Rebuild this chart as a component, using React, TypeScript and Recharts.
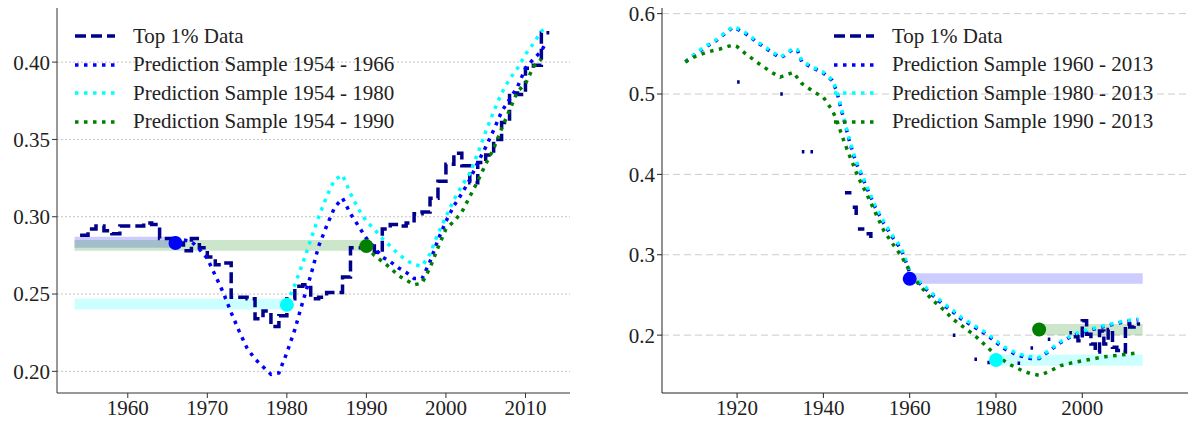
import React from 'react';
import { ComposedChart, Line, XAxis, YAxis, CartesianGrid, ReferenceArea, ReferenceDot } from 'recharts';

type P = { x: number; y: number | null };
const mk = (xs: number[], ys: (number | null)[]): P[] => xs.map((x, i) => ({ x, y: ys[i] }));

// ---------- Left panel ----------
const leftDataYears = Array.from({ length: 60 }, (_, i) => 1954 + i);
const leftDataVals = [0.288,0.292,0.294,0.291,0.289,0.294,0.294,0.294,0.296,0.295,0.286,0.286,0.283,0.278,0.286,0.280,0.274,0.269,0.270,0.248,0.248,0.247,0.234,0.239,0.229,0.236,0.247,0.255,0.256,0.247,0.248,0.251,0.251,0.261,0.280,0.280,0.281,0.277,0.292,0.295,0.294,0.296,0.302,0.303,0.312,0.323,0.334,0.341,0.333,0.322,0.335,0.340,0.350,0.361,0.380,0.379,0.396,0.398,0.419,0.419];
const leftBlueYears = [1966,1967,1968,1969,1970,1971,1972,1973,1974,1975,1976,1977,1978,1979,1980,1981,1982,1983,1984,1985,1986,1987,1988,1989,1990,1991,1992,1993,1994,1995,1996,1997,1998,1999,2000,2001,2002,2003,2004,2005,2006,2007,2008,2009,2010,2011,2012,2012.5];
const leftBlueVals = [0.283,0.285,0.284,0.279,0.273,0.262,0.251,0.238,0.226,0.215,0.208,0.203,0.198,0.199,0.212,0.227,0.245,0.262,0.281,0.294,0.306,0.312,0.302,0.294,0.286,0.280,0.274,0.271,0.267,0.264,0.260,0.260,0.271,0.285,0.297,0.307,0.315,0.324,0.335,0.345,0.356,0.368,0.376,0.384,0.396,0.402,0.407,0.412];
const leftCyanYears = [1980,1981,1982,1983,1984,1985,1986,1987,1988,1989,1990,1991,1992,1993,1994,1995,1996,1997,1998,1999,2000,2001,2002,2003,2004,2005,2006,2007,2008,2009,2010,2011,2012,2012.5];
const leftCyanVals = [0.244,0.256,0.270,0.285,0.300,0.313,0.324,0.327,0.315,0.305,0.297,0.292,0.286,0.281,0.276,0.272,0.269,0.268,0.276,0.289,0.300,0.311,0.320,0.328,0.341,0.355,0.368,0.380,0.389,0.396,0.405,0.412,0.420,0.422];
const leftGreenYears = [1990,1991,1992,1993,1994,1995,1996,1997,1998,1999,2000,2001,2002,2003,2004,2005,2006,2007,2008,2009,2010,2011,2012];
const leftGreenVals = [0.281,0.275,0.271,0.267,0.262,0.259,0.256,0.257,0.267,0.280,0.292,0.297,0.303,0.313,0.323,0.334,0.344,0.357,0.369,0.381,0.386,0.397,0.402];
const leftTicksX = [1960,1970,1980,1990,2000,2010];
const leftTicksY = [0.20,0.25,0.30,0.35,0.40];

// ---------- Right panel ----------
const rightPredYears = [1908,1910,1912,1915,1919,1920,1922,1925,1928,1930,1931,1933,1934,1935,1937,1940,1942,1943,1944,1945,1946,1947,1948,1949,1950,1952,1954,1956,1958,1959,1960,1962,1965,1968,1970,1972,1975,1978,1980,1982,1985,1988,1990,1992,1995,1998,2000,2003,2006,2010,2013];
const rightBlueVals = [0.540,0.548,0.556,0.566,0.583,0.581,0.575,0.563,0.552,0.545,0.548,0.556,0.554,0.540,0.534,0.526,0.517,0.505,0.484,0.463,0.442,0.424,0.409,0.397,0.384,0.359,0.339,0.322,0.307,0.293,0.278,0.266,0.251,0.237,0.229,0.220,0.210,0.200,0.191,0.183,0.175,0.171,0.171,0.179,0.191,0.200,0.204,0.208,0.212,0.217,0.219];
const rightCyanVals = [0.540,0.549,0.557,0.567,0.584,0.582,0.576,0.564,0.553,0.546,0.549,0.557,0.555,0.541,0.535,0.527,0.518,0.506,0.486,0.465,0.444,0.426,0.411,0.399,0.386,0.361,0.341,0.324,0.309,0.295,0.280,0.268,0.253,0.239,0.231,0.222,0.212,0.202,0.193,0.185,0.177,0.173,0.172,0.180,0.192,0.201,0.205,0.209,0.213,0.218,0.220];
const rightGreenYears = [1908,1910,1913,1916,1919,1920,1922,1925,1928,1930,1933,1935,1938,1940,1942,1943,1944,1945,1946,1947,1948,1950,1952,1954,1956,1958,1960,1962,1965,1968,1970,1972,1975,1978,1980,1983,1986,1988,1990,1992,1995,1998,2000,2005,2010,2013];
const rightGreenVals = [0.540,0.546,0.552,0.556,0.561,0.559,0.550,0.538,0.527,0.521,0.527,0.513,0.502,0.496,0.480,0.469,0.453,0.438,0.424,0.411,0.397,0.376,0.353,0.330,0.314,0.299,0.280,0.264,0.245,0.231,0.220,0.212,0.200,0.185,0.175,0.164,0.156,0.152,0.150,0.154,0.162,0.166,0.168,0.173,0.176,0.178];
const rightDataYears = [1920,1920.6,1920.7,1930,1930.6,1930.7,1935,1935.6,1935.7,1937,1937.6,1937.7,1945,1946.5,1946.6,1946.8,1947,1947.6,1947.7,1948,1949.5,1949.6,1950,1951,1951.1,1970,1970.6,1970.7,1975,1975.6,1975.7,1978,1978.6,1978.7,1985,1985.6,1985.7,1988,1988.6,1988.7,1992,1992.6,1992.7,1997,1997.6,1997.7,1998,1999,2000,2001,2002,2003,2004,2005,2006,2007,2008,2009,2010,2011,2012,2013];
const rightDataVals = [0.515,0.515,null,0.500,0.500,null,0.428,0.428,null,0.428,0.428,null,0.377,0.377,null,0.359,0.359,0.347,null,0.332,0.332,null,0.326,0.321,null,0.200,0.200,null,0.170,0.170,null,0.166,0.166,null,0.165,0.165,null,0.184,0.184,null,0.195,0.195,null,0.203,0.203,null,0.198,0.193,0.218,0.201,0.189,0.179,0.205,0.189,0.207,0.185,0.181,0.179,0.214,0.210,0.214,0.216];
const rightTicksX = [1920,1940,1960,1980,2000];
const rightTicksY = [0.2,0.3,0.4,0.5,0.6];

const NAVY = '#00008b';
const BLUE = '#0000ff';
const CYAN = '#00ffff';
const GREEN = '#008000';
const FONT = '"Liberation Serif", "DejaVu Serif", serif';
const tick = { fill: '#222', fontSize: 21, fontFamily: FONT };

const dataLine = (d: P[], key: string) => (
  <Line key={key} data={d} dataKey="y" type="stepAfter" stroke={NAVY} strokeWidth={3.5} strokeDasharray="11 5" dot={false} isAnimationActive={false} connectNulls={false} />
);
const predLine = (d: P[], color: string, key: string) => (
  <Line key={key} data={d} dataKey="y" type="linear" stroke={color} strokeWidth={3.5} strokeDasharray="3.5 5.5" dot={false} isAnimationActive={false} />
);

function Legend({ items, left, top }: { items: { label: string; color: string; dash: string }[]; left: number; top: number }) {
  return (
    <div style={{ position: 'absolute', left, top, fontFamily: FONT, fontSize: 21, color: '#222' }}>
      {items.map((it, i) => (
        <div key={i} style={{ display: 'flex', alignItems: 'center', height: 28.5 }}>
          <svg width={40} height={10} style={{ marginRight: 18 }}>
            <line x1={0} y1={5} x2={40} y2={5} stroke={it.color} strokeWidth={3.5} strokeDasharray={it.dash} />
          </svg>
          <span>{it.label}</span>
        </div>
      ))}
    </div>
  );
}

export default function App() {
  const lData = mk(leftDataYears, leftDataVals);
  const lBlue = mk(leftBlueYears, leftBlueVals);
  const lCyan = mk(leftCyanYears, leftCyanVals);
  const lGreen = mk(leftGreenYears, leftGreenVals);
  const rData = mk(rightDataYears, rightDataVals);
  const rBlue = mk(rightPredYears, rightBlueVals);
  const rCyan = mk(rightPredYears, rightCyanVals);
  const rGreen = mk(rightGreenYears, rightGreenVals);
  return (
    <div style={{ position: 'fixed', left: 0, top: 0, width: 1192, height: 423, background: '#fff' }}>
      <div style={{ position: 'absolute', left: 0, top: 0 }}>
        <ComposedChart width={580} height={423} margin={{ top: 8, right: 10, bottom: 0, left: 0 }}>
          <CartesianGrid horizontal vertical={false} horizontalValues={leftTicksY} stroke="#aaa" strokeDasharray="2 2" strokeWidth={0.7} />
          <XAxis type="number" dataKey="x" domain={[1951.1, 2015.6]} ticks={leftTicksX} allowDataOverflow height={30} tick={tick} stroke="#333" tickSize={5} />
          <YAxis type="number" domain={[0.186, 0.435]} ticks={leftTicksY} allowDataOverflow width={57} tick={tick} stroke="#333" tickSize={5} tickFormatter={(v: number) => v.toFixed(2)} />
          <ReferenceArea x1={1953.3} x2={1966} y1={0.280} y2={0.287} fill={BLUE} fillOpacity={0.2} stroke="none" ifOverflow="visible" />
          <ReferenceArea x1={1953.3} x2={1990} y1={0.278} y2={0.285} fill={GREEN} fillOpacity={0.2} stroke="none" ifOverflow="visible" />
          <ReferenceArea x1={1953.3} x2={1980} y1={0.240} y2={0.247} fill={CYAN} fillOpacity={0.2} stroke="none" ifOverflow="visible" />
          {dataLine(lData, 'd')}
          {predLine(lBlue, BLUE, 'b')}
          {predLine(lCyan, CYAN, 'c')}
          {predLine(lGreen, GREEN, 'g')}
          <ReferenceDot x={1966} y={0.283} r={7} fill={BLUE} stroke="none" />
          <ReferenceDot x={1980} y={0.243} r={7} fill={CYAN} stroke="none" />
          <ReferenceDot x={1990} y={0.281} r={7} fill={GREEN} stroke="none" />
        </ComposedChart>
        <Legend left={75} top={22} items={[
          { label: 'Top 1% Data', color: NAVY, dash: '11 5' },
          { label: 'Prediction Sample 1954 - 1966', color: BLUE, dash: '3.5 5.5' },
          { label: 'Prediction Sample 1954 - 1980', color: CYAN, dash: '3.5 5.5' },
          { label: 'Prediction Sample 1954 - 1990', color: GREEN, dash: '3.5 5.5' },
        ]} />
      </div>
      <div style={{ position: 'absolute', left: 600, top: 0 }}>
        <ComposedChart width={592} height={423} margin={{ top: 8, right: 4, bottom: 0, left: 0 }}>
          <CartesianGrid horizontal vertical={false} horizontalValues={rightTicksY} stroke="#ccc" strokeDasharray="7 4" strokeWidth={1} />
          <XAxis type="number" dataKey="x" domain={[1902.6, 2024.5]} ticks={rightTicksX} allowDataOverflow height={30} tick={tick} stroke="#222" tickSize={5} />
          <YAxis type="number" domain={[0.128, 0.607]} ticks={rightTicksY} allowDataOverflow width={62} tick={tick} stroke="#222" tickSize={5} tickFormatter={(v: number) => v.toFixed(1)} />
          <ReferenceArea x1={1960} x2={2014} y1={0.264} y2={0.277} fill={BLUE} fillOpacity={0.2} stroke="none" ifOverflow="visible" />
          <ReferenceArea x1={1990} x2={2014} y1={0.200} y2={0.214} fill={GREEN} fillOpacity={0.2} stroke="none" ifOverflow="visible" />
          <ReferenceArea x1={1980} x2={2014} y1={0.162} y2={0.176} fill={CYAN} fillOpacity={0.2} stroke="none" ifOverflow="visible" />
          {dataLine(rData, 'd')}
          {predLine(rBlue, BLUE, 'b')}
          {predLine(rCyan, CYAN, 'c')}
          {predLine(rGreen, GREEN, 'g')}
          <ReferenceDot x={1960} y={0.270} r={7} fill={BLUE} stroke="none" />
          <ReferenceDot x={1980} y={0.169} r={7} fill={CYAN} stroke="none" />
          <ReferenceDot x={1990} y={0.207} r={7} fill={GREEN} stroke="none" />
        </ComposedChart>
        <Legend left={234} top={22} items={[
          { label: 'Top 1% Data', color: NAVY, dash: '11 5' },
          { label: 'Prediction Sample 1960 - 2013', color: BLUE, dash: '3.5 5.5' },
          { label: 'Prediction Sample 1980 - 2013', color: CYAN, dash: '3.5 5.5' },
          { label: 'Prediction Sample 1990 - 2013', color: GREEN, dash: '3.5 5.5' },
        ]} />
      </div>
    </div>
  );
}
